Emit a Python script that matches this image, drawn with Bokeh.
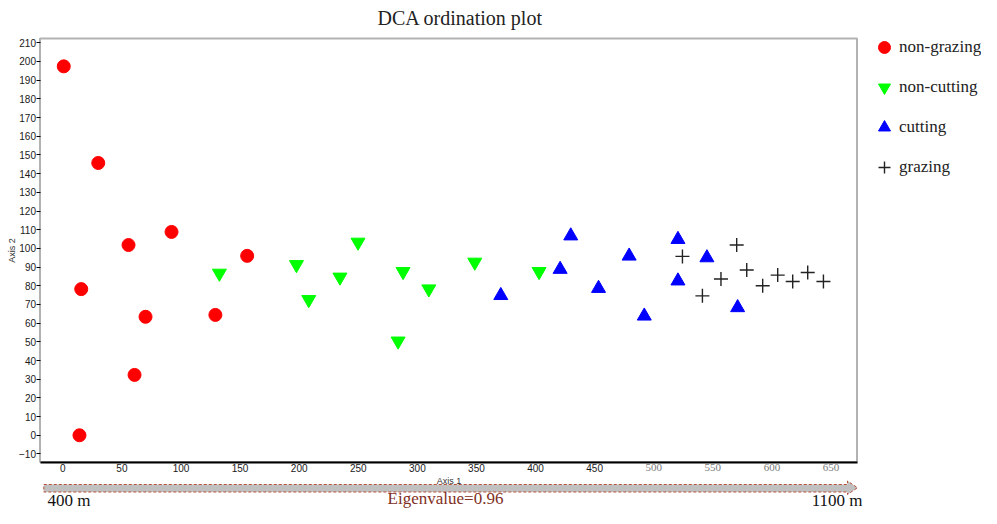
from bokeh.plotting import figure
from bokeh.models import (Legend, LegendItem, FixedTicker, Range1d, LinearAxis,
                          BoxAnnotation)
from bokeh.core.properties import value
from bokeh.embed import file_html
from bokeh.resources import INLINE

# ---- data ----
ng_x = [0.8, 30, 55.6, 92, 15.6, 70, 60.7, 14.1, 129.1, 156]
ng_y = [197.4, 145.7, 101.8, 108.8, 78.2, 63.4, 32.3, 0, 64.4, 96]

nc_x = [132.5, 197.7, 208.1, 234.5, 249.8, 287.9, 309.7, 283.7, 348.6, 403]
nc_y = [86.7, 91.3, 72.6, 84.6, 103.3, 87.6, 78.3, 50.4, 92.6, 87.6]

cut_x = [429.8, 370.6, 420.8, 479.2, 453.3, 492, 520.5, 520.5, 545, 571]
cut_y = [106.7, 74.8, 88.8, 95.9, 78.6, 63.8, 104.8, 82.6, 95, 68.3]

gr_x = [524.3, 570.2, 556.9, 541.2, 578.7, 592.2, 604.9, 617.6, 630.3, 643.6]
gr_y = [95.7, 101.8, 83.6, 74.6, 88.4, 80, 85.7, 82.3, 87.1, 82.3]

series_labels = ["non-grazing", "non-cutting", "cutting", "grazing"]
x_ticks_a = [0, 50, 100, 150, 200, 250, 300, 350, 400, 450]
x_ticks_b = [500, 550, 600, 650]
y_ticks = list(range(-10, 211, 10))
x_lim = (-19.3, 672)
y_lim = (-14.3, 212.3)

title_text = "DCA ordination plot"
left_text = "400 m"
right_text = "1100 m"
eigen_text = "Eigenvalue=0.96"

SERIF = "Liberation Serif"
SANS = "Liberation Sans"

# ---- geometry (canvas px) ----
W, H = 981, 508                 # canvas
TOP = 31                        # title band above the frame
BOX_L, BOX_T, BOX_W, BOX_H = 39.5, 38.0, 817.0, 423.5   # bordered data box
sx = (x_lim[1] - x_lim[0]) / BOX_W
sy = (y_lim[1] - y_lim[0]) / BOX_H


def X(px):   # canvas x -> data x
    return x_lim[0] + (px - BOX_L) * sx


def Y(py):   # canvas y -> data y
    return y_lim[1] - (py - BOX_T) * sy


p = figure(width=W, height=H,
           x_range=Range1d(X(0), X(W)), y_range=Range1d(Y(H), Y(TOP)),
           output_backend="svg", toolbar_location=None, title=title_text,
           min_border_left=0, min_border_top=TOP, min_border_right=0,
           min_border_bottom=0)

p.title.align = "left"
p.title.offset = 377
p.title.standoff = 6
p.title.text_font = SERIF
p.title.text_font_size = "20px"
p.title.text_font_style = "normal"
p.title.text_color = "#222222"

p.outline_line_color = None
p.xgrid.visible = False
p.ygrid.visible = False

# data box border
p.add_layout(BoxAnnotation(left=x_lim[0], right=x_lim[1], bottom=y_lim[0], top=y_lim[1],
                           fill_color=None, line_color="black", line_width=2))

# ---- axes (pinned to the data box) ----
xa = p.xaxis[0]
ya = p.yaxis[0]
for ax in (xa, ya):
    ax.minor_tick_line_color = None
    ax.major_label_text_font = SANS
    ax.major_label_text_font_size = "10px"
    ax.major_label_text_color = "#1a1a1a"
    ax.axis_label_text_font = SANS
    ax.axis_label_text_font_size = "9px"
    ax.axis_label_text_font_style = "normal"
    ax.axis_label_text_color = "#333333"
    ax.axis_label_standoff = 0

xa.fixed_location = y_lim[0]
xa.bounds = x_lim
xa.ticker = FixedTicker(ticks=x_ticks_a)
xa.axis_label = "Axis 1"
xa.axis_line_color = "black"
xa.axis_line_width = 2
xa.major_tick_out = 0
xa.major_tick_in = 0
xa.major_label_standoff = 2

xb = LinearAxis(fixed_location=y_lim[0], bounds=x_lim,
                ticker=FixedTicker(ticks=x_ticks_b),
                axis_line_color=None, major_tick_line_color=None,
                major_tick_out=0, major_tick_in=0,
                minor_tick_line_color=None, minor_tick_out=0, minor_tick_in=0,
                major_label_standoff=2,
                major_label_text_font=SERIF, major_label_text_font_size="11px",
                major_label_text_color="#7a7a7a")
p.add_layout(xb, "below")

ya.fixed_location = x_lim[0]
ya.bounds = y_lim
ya.ticker = FixedTicker(ticks=y_ticks)
ya.axis_label = "Axis 2"
ya.axis_line_color = None
ya.major_tick_out = 4
ya.major_tick_in = 0
ya.major_label_standoff = 0
ya.major_tick_line_color = "black"

# ---- points ----
styles = [dict(marker="circle", size=13, fill_color="#ff0000", line_color="#ff0000"),
          dict(marker="inverted_triangle", size=14, fill_color="#00ff00", line_color="#00ff00"),
          dict(marker="triangle", size=14, fill_color="#0000ff", line_color="#0000ff"),
          dict(marker="cross", size=14, line_color="#222222", line_width=1.4)]
series = [(ng_x, ng_y), (nc_x, nc_y), (cut_x, cut_y), (gr_x, gr_y)]
renderers = [p.scatter(xs, ys, **st) for (xs, ys), st in zip(series, styles)]

# ---- legend (right of the data box) ----
LEG_L, LEG_TOP, ROW, GAP = 869, 32, 30, 10
leg_h = 4 * ROW + 3 * GAP
legend = Legend(items=[LegendItem(label=lab, renderers=[r])
                       for lab, r in zip(series_labels, renderers)],
                location=(LEG_L, H - (LEG_TOP + leg_h)))
legend.padding = 0
legend.margin = 0
legend.spacing = GAP
legend.glyph_width = ROW
legend.glyph_height = ROW
legend.label_standoff = 0
legend.label_text_font = SERIF
legend.label_text_font_size = "17px"
legend.label_text_color = "#222222"
legend.border_line_alpha = 0
legend.background_fill_alpha = 0
p.add_layout(legend)

# ---- bottom gradient arrow + captions ----
a_left, a_base, a_tip = 43.3, 847.0, 857.0
body_top, body_bot, head_top, head_bot = 484.0, 491.5, 480.5, 494.0
p.patch([X(a_left), X(a_base), X(a_base), X(a_tip), X(a_base), X(a_base), X(a_left)],
        [Y(body_top), Y(body_top), Y(head_top), Y((head_top + head_bot) / 2),
         Y(head_bot), Y(body_bot), Y(body_bot)],
        fill_color="#c0c0c0", line_color="#b5523b", line_dash="3 2", line_width=1)

cap_mid = 499.5    # vertical middle of the caption line
p.text([X(47)], [Y(cap_mid)], text=[left_text], text_font=value(SERIF),
       text_font_size="17px", text_color="#111111",
       text_align="left", text_baseline="middle")
p.text([X(862)], [Y(cap_mid)], text=[right_text], text_font=value(SERIF),
       text_font_size="17px", text_color="#111111",
       text_align="right", text_baseline="middle")
p.text([X(445)], [Y(cap_mid - 1.5)], text=[eigen_text], text_font=value(SERIF),
       text_font_size="17px", text_color="#7f2f24",
       text_align="center", text_baseline="middle")

open("out.html", "w").write(file_html(p, INLINE))
